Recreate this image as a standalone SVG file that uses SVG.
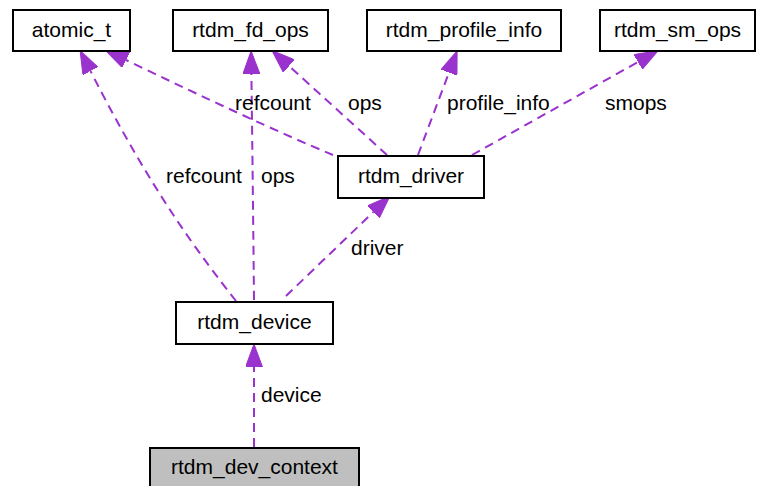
<svg xmlns="http://www.w3.org/2000/svg" width="757" height="486" viewBox="0 0 757 486">
<style>
.box{fill:#fff;stroke:#000;stroke-width:2}
.lbl{font-family:"Liberation Sans",Arial,sans-serif;font-size:21px;fill:#000}
.nl{text-anchor:middle}
.e{fill:none;stroke:#9a32cd;stroke-width:2;stroke-dasharray:9,6}
</style>
<defs>
<marker id="ah" markerUnits="userSpaceOnUse" viewBox="0 0 23 17" markerWidth="23" markerHeight="17" refX="0" refY="8.5" orient="auto">
<path d="M0,0 L23,8.5 L0,17 z" fill="#9a32cd" stroke="#9a32cd" stroke-width="1"/>
</marker>
</defs>
<rect width="757" height="486" fill="#fff"/>
<g id="edges">
<path class="e" marker-end="url(#ah)" d="M236,301 C200,255 152,192 90.5,71"/>
<path class="e" marker-end="url(#ah)" d="M333,155 C280,133 205,98 126,60"/>
<path class="e" marker-end="url(#ah)" d="M254,300 C253,200 252,120 251.4,74"/>
<path class="e" marker-end="url(#ah)" d="M387,155 L289,66"/>
<path class="e" marker-end="url(#ah)" d="M418,155 L449,72.5"/>
<path class="e" marker-end="url(#ah)" d="M472,155 L638,62"/>
<path class="e" marker-end="url(#ah)" d="M286,296 L373.4,212"/>
<path class="e" marker-end="url(#ah)" d="M254,447 L254,367"/>
<text class="lbl" x="235" y="110">refcount</text>
<text class="lbl" x="348" y="110">ops</text>
<text class="lbl" x="447" y="110">profile_info</text>
<text class="lbl" x="605" y="110">smops</text>
<text class="lbl" x="166" y="183">refcount</text>
<text class="lbl" x="261" y="183">ops</text>
<text class="lbl" x="351" y="255">driver</text>
<text class="lbl" x="261" y="402">device</text>
</g>
<g id="atomic_t"><rect class="box" x="13" y="10" width="117" height="41"/><text class="lbl nl" x="71.5" y="37">atomic_t</text></g>
<g id="rtdm_fd_ops"><rect class="box" x="173" y="10" width="155" height="41"/><text class="lbl nl" x="250.5" y="37">rtdm_fd_ops</text></g>
<g id="rtdm_profile_info"><rect class="box" x="367" y="10" width="194" height="41"/><text class="lbl nl" x="464" y="37">rtdm_profile_info</text></g>
<g id="rtdm_sm_ops"><rect class="box" x="600" y="10" width="155" height="41"/><text class="lbl nl" x="677.5" y="37">rtdm_sm_ops</text></g>
<g id="rtdm_driver"><rect class="box" x="338" y="156" width="146" height="42"/><text class="lbl nl" x="411" y="183">rtdm_driver</text></g>
<g id="rtdm_device"><rect class="box" x="176" y="302" width="157" height="42"/><text class="lbl nl" x="254.5" y="329">rtdm_device</text></g>
<g id="rtdm_dev_context"><rect class="box" x="150" y="448" width="209" height="41" style="fill:#bfbfbf"/><text class="lbl nl" x="254.5" y="474">rtdm_dev_context</text></g>
</svg>
